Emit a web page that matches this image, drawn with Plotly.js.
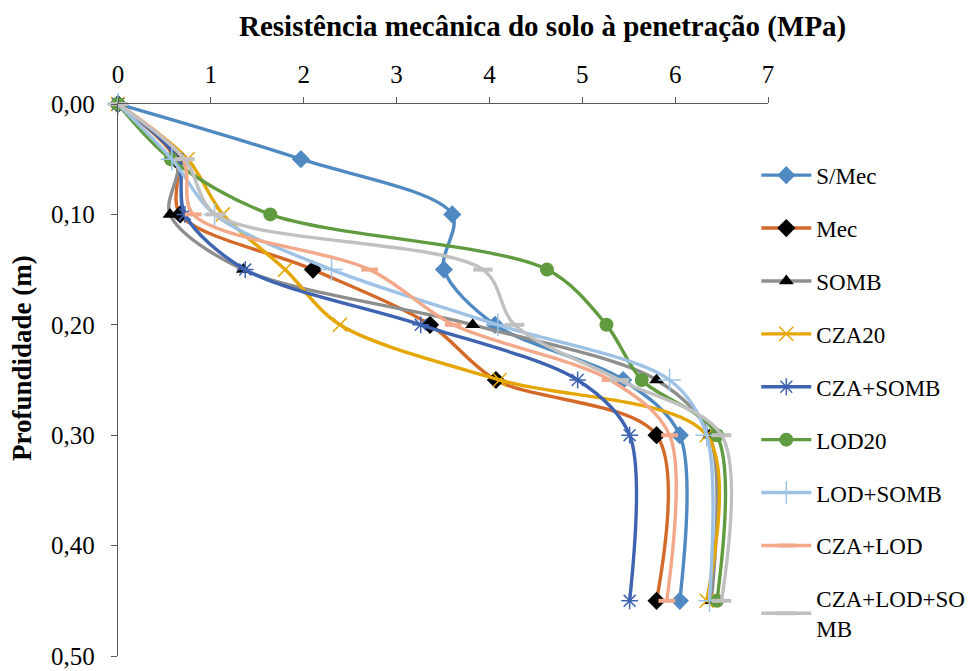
<!DOCTYPE html>
<html>
<head>
<meta charset="utf-8">
<script src="https://cdn.plot.ly/plotly-3.0.1.min.js"></script>
<style>html,body{margin:0;padding:0;background:#fff;}#chart{width:976px;height:671px;}</style>
</head>
<body>
<div id="chart"></div>
<script>
var depth = [0, 0.05, 0.10, 0.15, 0.20, 0.25, 0.30, 0.45];
var seriesNames = ["S/Mec", "Mec", "SOMB", "CZA20", "CZA+SOMB", "LOD20", "LOD+SOMB", "CZA+LOD", "CZA+LOD+SO<br>MB"];
var sMec      = [0, 1.97, 3.60, 3.51, 4.06, 5.44, 6.05, 6.05];
var mec       = [0, 0.62, 0.67, 2.10, 3.36, 4.07, 5.80, 5.80];
var somb      = [0, 0.64, 0.56, 1.35, 3.82, 5.80, 6.37, 6.39];
var cza20     = [0, 0.75, 1.13, 1.80, 2.39, 4.11, 6.34, 6.34];
var czaSomb   = [0, 0.64, 0.72, 1.37, 3.26, 4.95, 5.51, 5.51];
var lod20     = [0, 0.57, 1.64, 4.62, 5.26, 5.64, 6.45, 6.45];
var lodSomb   = [0, 0.58, 1.04, 2.30, 4.09, 5.94, 6.34, 6.37];
var czaLod    = [0, 0.70, 0.81, 2.71, 3.61, 5.30, 5.94, 5.91];
var czaLodSomb= [0, 0.72, 1.05, 3.93, 4.27, 5.40, 6.50, 6.50];
var xTicks = [0, 1, 2, 3, 4, 5, 6, 7];
var yTicks = [0, 0.10, 0.20, 0.30, 0.40, 0.50];

var styles = [
  {c:"#4F89C1", m:{symbol:"diamond", size:14, color:"#4F89C1"}},
  {c:"#D46A2A", m:{symbol:"diamond", size:14, color:"#000000"}},
  {c:"#8E8E8E", m:{symbol:"triangle-up", size:13, color:"#000000"}},
  {c:"#E6A600", m:{symbol:"x-thin-open", size:14, color:"#E6A600", line:{width:1.5, color:"#E6A600"}}},
  {c:"#3D63B1", m:{symbol:"asterisk-open", size:14, color:"#3D63B1", line:{width:1.5, color:"#3D63B1"}}},
  {c:"#609C3F", m:{symbol:"circle", size:14, color:"#609C3F"}},
  {c:"#9DC2E6", m:{symbol:"cross-thin-open", size:16, color:"#9DC2E6", line:{width:1.5, color:"#9DC2E6"}}},
  {c:"#F3A88A", m:{symbol:"line-ew-open", size:12, color:"#F3A88A", line:{width:4, color:"#F3A88A"}}},
  {c:"#C0C0C0", m:{symbol:"line-ew-open", size:14, color:"#C0C0C0", line:{width:4, color:"#C0C0C0"}}}
];
var vals = [sMec, mec, somb, cza20, czaSomb, lod20, lodSomb, czaLod, czaLodSomb];

var traces = vals.map(function(v, i){
  return {
    x: v, y: depth, name: seriesNames[i], type: "scatter", mode: "lines+markers",
    line: {color: styles[i].c, width: 3.4, shape: "spline", smoothing: 0.9},
    marker: styles[i].m, legendgroup: "g"+i, cliponaxis: false
  };
});

var font = "Liberation Serif";
var layout = {
  width: 976, height: 671,
  margin: {l:118, r:208, t:104, b:15, autoexpand: false},
  paper_bgcolor: "#fff", plot_bgcolor: "#fff",
  font: {family: font, size: 20, color: "#000"},
  separators: ",.",
  showlegend: true,
  legend: {x: 0.982, xanchor: "left", y: 0.91, yanchor: "top", font:{family: font, size:23, color:"#000"},
           tracegroupgap: 20, itemwidth: 50, bgcolor: "rgba(0,0,0,0)"},
  xaxis: {side: "top", range: [0, 7], tickvals: xTicks, ticks: "outside", ticklen: 6, tickcolor:"#595959",
          showline: true, linecolor: "#595959", linewidth: 1.3, showgrid: false, zeroline: false,
          ticklabelstandoff: 4, tickfont:{family: font, size:25}, fixedrange: true},
  yaxis: {range: [0.5, 0], tickvals: yTicks, tickformat: ".2f", ticks: "outside", ticklen: 6, tickcolor:"#595959",
          showline: true, linecolor: "#595959", linewidth: 1.3, showgrid: false, zeroline: false,
          ticklabelstandoff: 11, tickfont:{family: font, size:25}, fixedrange: true},
  annotations: [
    {text: "<b>Resistência mecânica do solo à penetração (MPa)</b>", xref:"paper", yref:"paper",
     x: (542-118)/650, y: 1 + (104-27)/552, xanchor:"center", yanchor:"middle", showarrow:false,
     font:{family: font, size:29, color:"#000"}},
    {text: "<b>Profundidade (m)</b>", xref:"paper", yref:"paper",
     x: (22-118)/650, y: 1 - (358-104)/552, xanchor:"center", yanchor:"middle", showarrow:false, textangle:-90,
     font:{family: font, size:27, color:"#000"}}
  ]
};
Plotly.newPlot("chart", traces, layout, {staticPlot: true});
</script>
</body>
</html>
